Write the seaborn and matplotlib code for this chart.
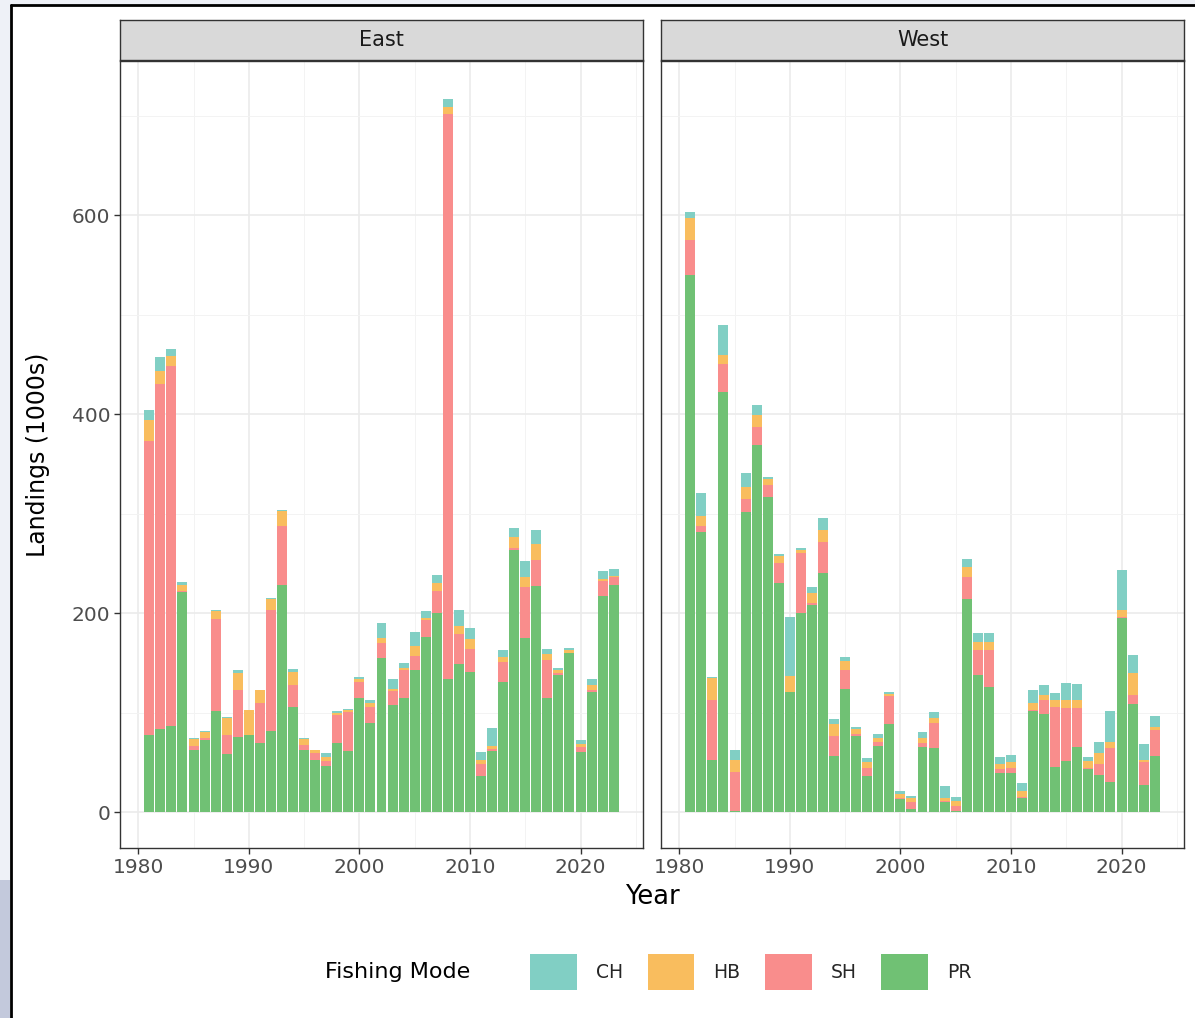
import matplotlib
matplotlib.use('Agg')
import pandas as pd
import matplotlib.pyplot as plt
from matplotlib.patches import Patch, Rectangle
from matplotlib.lines import Line2D
import seaborn as sns

# Landings (1000s) by year, region and fishing mode
years = list(range(1981, 2024))
modes = ['CH', 'HB', 'SH', 'PR']

east_pr = [78, 84, 87, 221, 63, 73, 102, 58, 76, 78, 70, 82, 228, 106, 63, 52, 46, 70, 61, 115,
           90, 155, 108, 115, 143, 176, 200, 134, 149, 141, 36, 61, 131, 264, 175, 227, 115, 138, 160, 60,
           121, 217, 228]
east_sh = [295, 346, 361, 1, 4, 2, 92, 20, 47, 0, 40, 121, 60, 22, 5, 7, 5, 28, 40, 16,
           16, 15, 14, 28, 14, 17, 22, 568, 30, 23, 12, 3, 20, 2, 51, 26, 38, 2, 0, 6,
           2, 15, 8]
east_hb = [21, 13, 10, 6, 7, 6, 8, 17, 17, 25, 13, 11, 15, 13, 6, 3, 4, 2, 2, 3,
           4, 5, 2, 2, 10, 2, 8, 7, 8, 10, 4, 3, 5, 11, 10, 17, 6, 3, 3, 3,
           5, 2, 1]
east_ch = [10, 14, 8, 3, 1, 1, 1, 1, 3, 0, 0, 1, 1, 3, 1, 1, 4, 2, 1, 2,
           3, 15, 10, 5, 14, 7, 8, 8, 16, 11, 8, 18, 7, 9, 16, 14, 5, 2, 2, 4,
           6, 8, 7]

west_pr = [540, 282, 52, 422, 1, 302, 369, 317, 230, 121, 200, 208, 240, 56, 124, 77, 36, 67, 89, 13,
           3, 66, 65, 10, 1, 214, 138, 126, 39, 39, 14, 102, 99, 45, 51, 66, 43, 37, 30, 195,
           109, 27, 56]
west_sh = [35, 6, 61, 28, 39, 13, 18, 12, 20, 0, 60, 2, 32, 21, 19, 2, 8, 4, 28, 1,
           7, 4, 25, 1, 5, 22, 25, 37, 4, 5, 1, 1, 14, 61, 54, 39, 1, 11, 35, 1,
           9, 23, 27]
west_hb = [22, 10, 22, 10, 12, 12, 12, 6, 7, 16, 4, 10, 12, 12, 9, 5, 6, 4, 2, 4,
           4, 5, 5, 3, 5, 10, 8, 8, 5, 6, 6, 7, 5, 7, 8, 8, 7, 11, 6, 7,
           22, 2, 3]
west_ch = [6, 23, 1, 30, 10, 14, 10, 2, 2, 59, 2, 6, 12, 5, 4, 2, 4, 4, 2, 3,
           2, 6, 6, 12, 4, 8, 9, 9, 7, 7, 8, 13, 10, 7, 17, 16, 4, 12, 31, 40,
           18, 17, 11]

colors = {'CH': '#81cfc4', 'HB': '#f9bd5e', 'SH': '#f98d8c', 'PR': '#70c174'}

series = {
    'East': {'PR': east_pr, 'SH': east_sh, 'HB': east_hb, 'CH': east_ch},
    'West': {'PR': west_pr, 'SH': west_sh, 'HB': west_hb, 'CH': west_ch},
}
rows = []
for region, vals in series.items():
    for m in modes:
        for yr, v in zip(years, vals[m]):
            rows.append({'Region': region, 'Year': yr, 'Mode': m, 'Landings': v})
df = pd.DataFrame(rows)

sns.set_theme(style='white')
plt.rcParams['font.family'] = ['DejaVu Sans']

W, H = 1195, 1018
fig = plt.figure(figsize=(W / 100, H / 100), dpi=100)
fig.patch.set_facecolor('#eef1f7')

# screenshot sheet and its edges
fig.add_artist(Rectangle((11 / W, 0), 1 - 11 / W, 1 - 5 / H, transform=fig.transFigure,
                         facecolor='white', edgecolor='none', zorder=-10))
fig.add_artist(Line2D([11 / W, 11 / W], [0, 1 - 5 / H], color='black', lw=2, transform=fig.transFigure))
fig.add_artist(Line2D([11 / W, 1], [1 - 5 / H, 1 - 5 / H], color='black', lw=2, transform=fig.transFigure))
fig.add_artist(Rectangle((0, 0), 10 / W, 1 - 880 / H, transform=fig.transFigure,
                         facecolor='#c3c9dc', edgecolor='none'))

lefts = {'East': 120, 'West': 661}
for region, left in lefts.items():
    ax = fig.add_axes([left / W, 1 - 848 / H, 523 / W, 787 / H])
    sns.histplot(data=df[df['Region'] == region], x='Year', weights='Landings', hue='Mode',
                 hue_order=modes, multiple='stack', discrete=True, shrink=0.9,
                 palette=colors, alpha=1, linewidth=0, legend=False, ax=ax)
    ax.set_xlim(1978.35, 2025.65)
    ax.set_ylim(-36, 755)
    ax.set_xticks([1980, 1990, 2000, 2010, 2020])
    ax.set_xticks([1985, 1995, 2005, 2015, 2025], minor=True)
    ax.set_yticks([0, 200, 400, 600])
    ax.set_yticks([100, 300, 500, 700], minor=True)
    ax.set_axisbelow(True)
    ax.grid(which='major', color='#ebebeb', lw=1.2)
    ax.grid(which='minor', color='#f3f3f3', lw=0.7)
    ax.set_xlabel('')
    ax.set_ylabel('')
    ax.tick_params(which='major', length=4, width=1, color='#333333', labelcolor='#4d4d4d',
                   labelsize=14.5, pad=3, bottom=True, left=(region == 'East'))
    ax.tick_params(which='minor', length=0)
    if region == 'West':
        ax.tick_params(axis='y', labelleft=False, left=False)
    for sp in ax.spines.values():
        sp.set_color('#333333')
        sp.set_linewidth(1)

    strip = fig.add_axes([left / W, 1 - 60 / H, 523 / W, 40 / H])
    strip.set_facecolor('#d9d9d9')
    strip.set_xticks([])
    strip.set_yticks([])
    for sp in strip.spines.values():
        sp.set_color('#333333')
        sp.set_linewidth(1)
    strip.text(0.5, 0.5, region, ha='center', va='center', fontsize=15, color='#1a1a1a',
               transform=strip.transAxes)

fig.text(652 / W, 1 - 897 / H, 'Year', ha='center', va='center', fontsize=18.5, color='black')
fig.text(38 / W, 1 - 455 / H, 'Landings (1000s)', ha='center', va='center', rotation=90,
         fontsize=17, color='black')

# legend along the bottom, title on the left
fig.text(325 / W, 1 - 972 / H, 'Fishing Mode', ha='left', va='center', fontsize=16, color='black')
handles = [Patch(facecolor=colors[m], edgecolor='none') for m in modes]
fig.legend(handles, modes, loc='center left', bbox_to_anchor=(530 / W, 1 - 972 / H),
           ncol=4, frameon=False, fontsize=13.5, handlelength=2.5, handleheight=2.65,
           handletextpad=1.0, columnspacing=1.32, borderpad=0, borderaxespad=0)

fig.savefig('out.png', dpi=100)
